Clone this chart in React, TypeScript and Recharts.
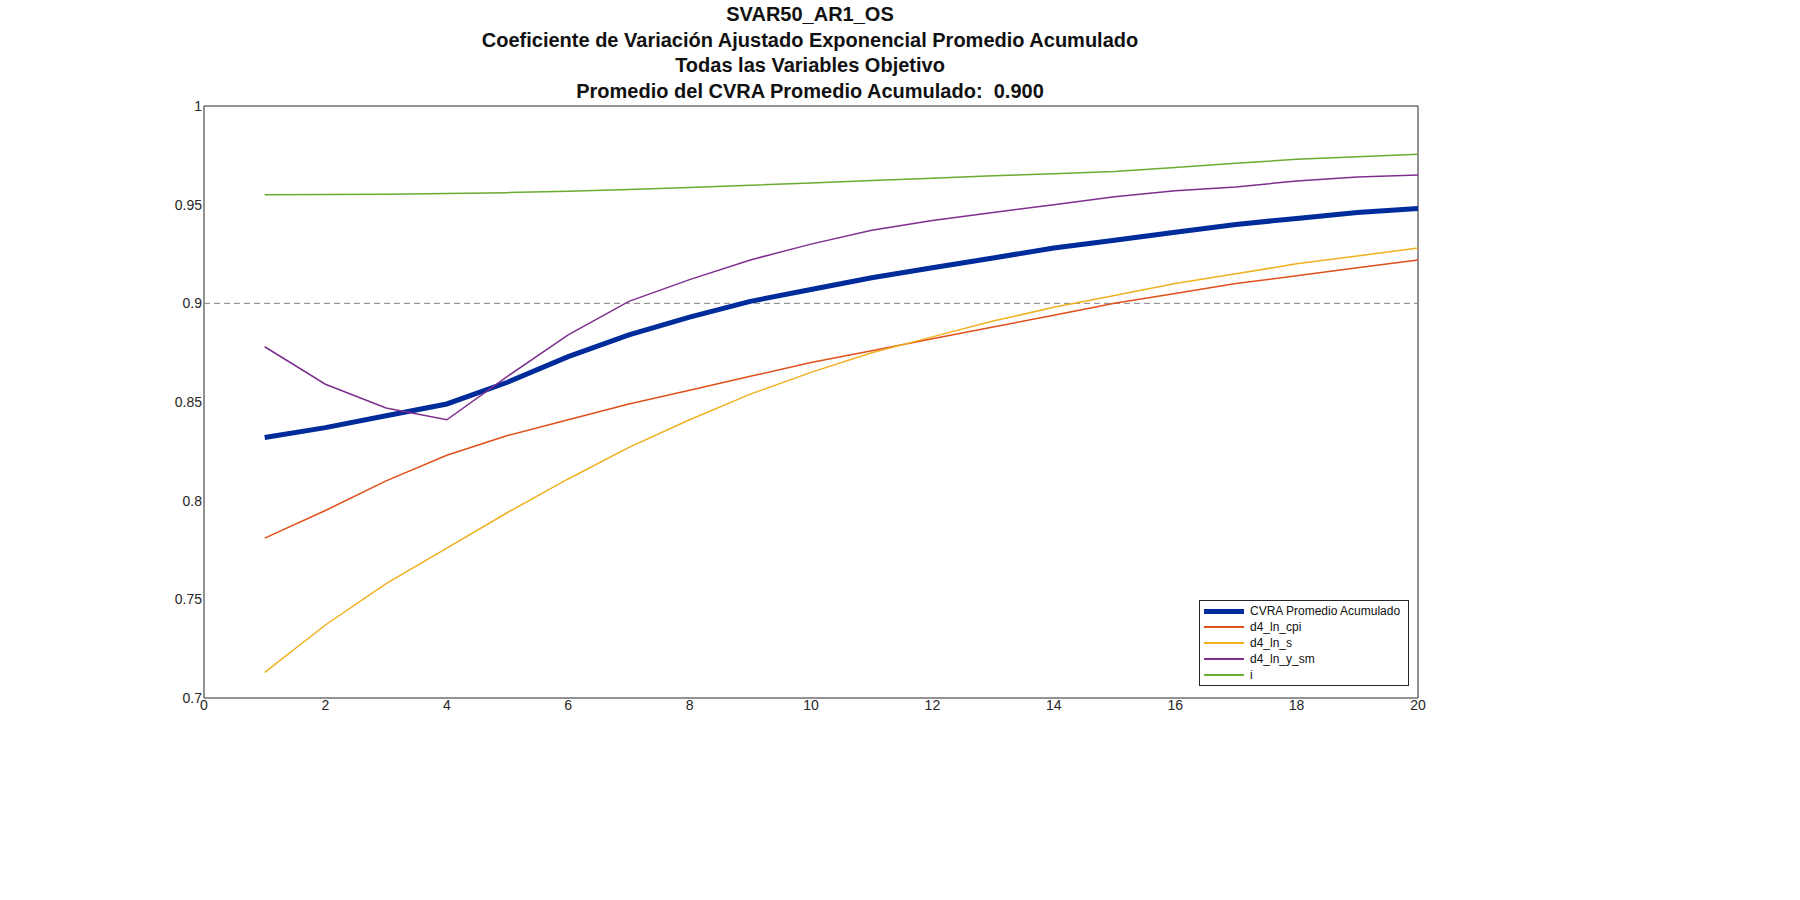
import { LineChart, Line, XAxis, YAxis, ReferenceLine, ReferenceArea } from 'recharts'

const horizons = [1, 2, 3, 4, 5, 6, 7, 8, 9, 10, 11, 12, 13, 14, 15, 16, 17, 18, 19, 20]
const cvraProm = [0.832, 0.837, 0.843, 0.849, 0.860, 0.873, 0.884, 0.893, 0.901, 0.907, 0.913, 0.918, 0.923, 0.928, 0.932, 0.936, 0.940, 0.943, 0.946, 0.948]
const cpi = [0.781, 0.795, 0.810, 0.823, 0.833, 0.841, 0.849, 0.856, 0.863, 0.870, 0.876, 0.882, 0.888, 0.894, 0.900, 0.905, 0.910, 0.914, 0.918, 0.922]
const sVals = [0.713, 0.737, 0.758, 0.776, 0.794, 0.811, 0.827, 0.841, 0.854, 0.865, 0.875, 0.883, 0.891, 0.898, 0.904, 0.910, 0.915, 0.920, 0.924, 0.928]
const ySm = [0.878, 0.859, 0.847, 0.841, 0.863, 0.884, 0.901, 0.912, 0.922, 0.930, 0.937, 0.942, 0.946, 0.950, 0.954, 0.957, 0.959, 0.962, 0.964, 0.965]
const iVals = [0.9550, 0.9551, 0.9553, 0.9556, 0.9561, 0.9568, 0.9577, 0.9587, 0.9598, 0.9610, 0.9622, 0.9634, 0.9646, 0.9657, 0.9668, 0.9688, 0.9710, 0.9730, 0.9743, 0.9755]
const xTicks = [0, 2, 4, 6, 8, 10, 12, 14, 16, 18, 20]
const yTicks = [0.7, 0.75, 0.8, 0.85, 0.9, 0.95, 1]

const titles = [
  'SVAR50_AR1_OS',
  'Coeficiente de Variación Ajustado Exponencial Promedio Acumulado',
  'Todas las Variables Objetivo',
  'Promedio del CVRA Promedio Acumulado:  0.900',
]

const series = [
  { key: 'cvra', name: 'CVRA Promedio Acumulado', color: '#002b9b', width: 5 },
  { key: 'cpi', name: 'd4_ln_cpi', color: '#e0501a', width: 1.5 },
  { key: 's', name: 'd4_ln_s', color: '#f0b020', width: 1.5 },
  { key: 'ysm', name: 'd4_ln_y_sm', color: '#7e2f8e', width: 1.5 },
  { key: 'i', name: 'i', color: '#6aad30', width: 1.5 },
]

const data = horizons.map((h, k) => ({
  h, cvra: cvraProm[k], cpi: cpi[k], s: sVals[k], ysm: ySm[k], i: iVals[k],
}))

export default function App() {
  return (
    <div style={{ position: 'absolute', left: 0, top: 0, width: 1800, height: 900, background: 'white', fontFamily: 'Liberation Sans, Arial, sans-serif' }}>
      {titles.map((t, k) => (
        <div key={k} style={{ position: 'absolute', left: 0, width: 1620, top: 3 + k * 25.5, textAlign: 'center', fontWeight: 'bold', fontSize: 20, color: '#111', whiteSpace: 'pre' }}>
          {t}
        </div>
      ))}
      <LineChart width={1800} height={900} data={data} margin={{ top: 106, left: 164, right: 382, bottom: 172 }}>
        <XAxis dataKey="h" type="number" domain={[0, 20]} ticks={xTicks} height={30} tickSize={0}
          axisLine={false} tick={{ fontSize: 14, fill: '#262626' }} />
        <YAxis type="number" domain={[0.7, 1]} ticks={yTicks} width={40} tickSize={0} axisLine={false}
          tick={{ fontSize: 14, fill: '#262626' }} tickFormatter={v => String(v)} />
        <ReferenceArea x1={0} x2={20} y1={0.7} y2={1} fill="none" stroke="#262626" strokeWidth={1} ifOverflow="visible" />
        <ReferenceLine y={0.9} stroke="#808080" strokeDasharray="6 4" />
        {series.map(s => (
          <Line key={s.key} dataKey={s.key} name={s.name} stroke={s.color} strokeWidth={s.width}
            dot={false} isAnimationActive={false} type="linear" />
        ))}
      </LineChart>
      <div style={{ position: 'absolute', left: 1199, top: 600, width: 200, border: '1px solid #262626', background: 'white', padding: '2px 4px' }}>
        {series.map(s => (
          <div key={s.key} style={{ display: 'flex', alignItems: 'center', height: 16, fontSize: 12, color: '#111' }}>
            <div style={{ width: 40, height: s.width, background: s.color, marginRight: 6 }} />
            {s.name}
          </div>
        ))}
      </div>
    </div>
  )
}
